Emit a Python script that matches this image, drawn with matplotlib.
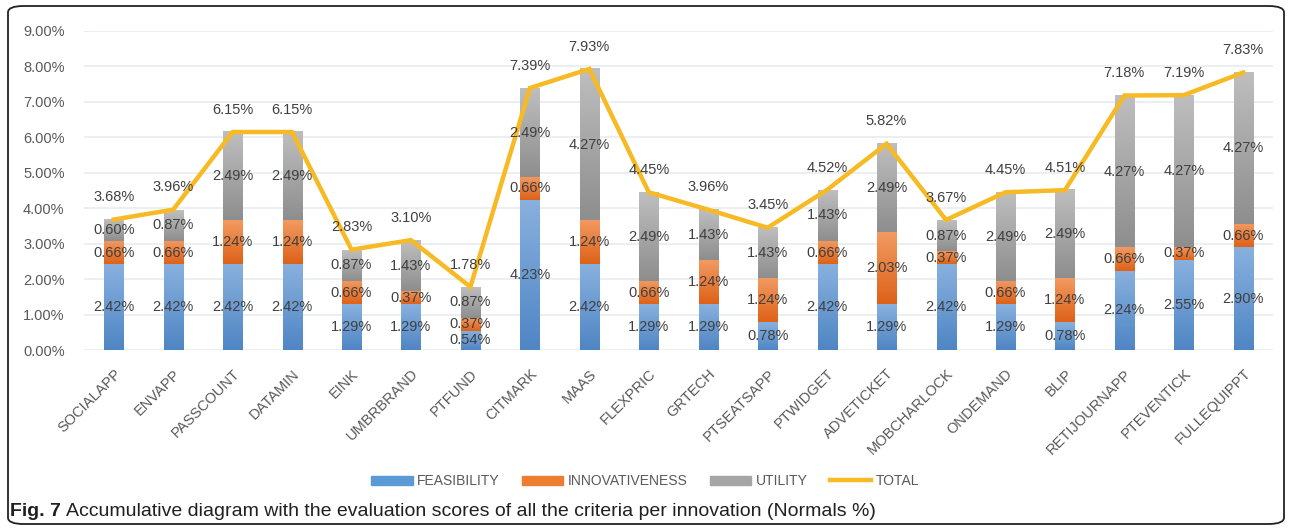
import numpy as np
import matplotlib
matplotlib.use("Agg")
import matplotlib.pyplot as plt
from matplotlib.colors import LinearSegmentedColormap
from matplotlib.patches import FancyBboxPatch, Patch
from matplotlib.lines import Line2D
from matplotlib.ticker import PercentFormatter

plt.rcParams['font.family'] = ['Liberation Sans', 'DejaVu Sans']

innovations = ["SOCIALAPP", "ENVAPP", "PASSCOUNT", "DATAMIN", "EINK", "UMBRBRAND",
               "PTFUND", "CITMARK", "MAAS", "FLEXPRIC", "GRTECH", "PTSEATSAPP",
               "PTWIDGET", "ADVETICKET", "MOBCHARLOCK", "ONDEMAND", "BLIP",
               "RETIJOURNAPP", "PTEVENTICK", "FULLEQUIPPT"]
feasibility = [2.42, 2.42, 2.42, 2.42, 1.29, 1.29, 0.54, 4.23, 2.42, 1.29,
               1.29, 0.78, 2.42, 1.29, 2.42, 1.29, 0.78, 2.24, 2.55, 2.90]
innovativeness = [0.66, 0.66, 1.24, 1.24, 0.66, 0.37, 0.37, 0.66, 1.24, 0.66,
                  1.24, 1.24, 0.66, 2.03, 0.37, 0.66, 1.24, 0.66, 0.37, 0.66]
utility = [0.60, 0.87, 2.49, 2.49, 0.87, 1.43, 0.87, 2.49, 4.27, 2.49,
           1.43, 1.43, 1.43, 2.49, 0.87, 2.49, 2.49, 4.27, 4.27, 4.27]
total = [3.68, 3.96, 6.15, 6.15, 2.83, 3.10, 1.78, 7.39, 7.93, 4.45,
         3.96, 3.45, 4.52, 5.82, 3.67, 4.45, 4.51, 7.18, 7.19, 7.83]

W, H = 1290, 532
fig = plt.figure(figsize=(W / 100, H / 100), dpi=100)
ax = fig.add_axes([84 / W, 1 - 350 / H, (1273 - 84) / W, (350 - 31) / H])

x = np.arange(len(innovations))
f = np.array(feasibility) / 100
i_ = np.array(innovativeness) / 100
u = np.array(utility) / 100
t = np.array(total) / 100

# (light top, dark bottom) for each series
series = [
    ("FEASIBILITY", f, np.zeros_like(f), "#5B9BD5", ("#88B0DE", "#4F86C4")),
    ("INNOVATIVENESS", i_, f, "#ED7D31", ("#F29A62", "#DD6218")),
    ("UTILITY", u, f + i_, "#A5A5A5", ("#BEBEBE", "#8E8E8E")),
]
bw = 0.32
lab_col = "#404040"
for name, vals, bottom, col, (top_c, bot_c) in series:
    bars = ax.bar(x, vals, bw, bottom=bottom, color=col, zorder=2, label=name)
    cmap = LinearSegmentedColormap.from_list(name, [bot_c, top_c])
    grad = np.linspace(0, 1, 64).reshape(-1, 1)
    for b in bars:
        x0, y0 = b.get_x(), b.get_y()
        ax.imshow(grad, extent=[x0, x0 + b.get_width(), y0, y0 + b.get_height()],
                  origin="lower", aspect="auto", cmap=cmap, zorder=2.1,
                  interpolation="bicubic")
    for xi, v, b0 in zip(x, vals, bottom):
        ax.text(xi, b0 + v / 2, f"{v * 100:.2f}%", ha="center", va="center",
                fontsize=10.5, color=lab_col, zorder=5)

ax.plot(x, t, color="#F7BA24", lw=3.2, zorder=4, solid_joinstyle="miter", label="TOTAL")
for xi, v in zip(x, t):
    ax.annotate(f"{v * 100:.2f}%", (xi, v), xytext=(0, 16), textcoords="offset points",
                ha="center", va="center", fontsize=10.5, color=lab_col, zorder=5)

ax.set_xlim(-0.5, len(innovations) - 0.5)
ax.set_ylim(0, 0.09)
ax.set_yticks(np.arange(0, 0.0901, 0.01))
ax.yaxis.set_major_formatter(PercentFormatter(1.0, decimals=2))
ax.set_xticks(x)
ax.set_xticklabels(innovations, rotation=45, ha="right", rotation_mode="anchor")
ax.tick_params(axis="both", length=0, labelsize=10.5, labelcolor="#595959")
ax.tick_params(axis="x", pad=12)
ax.tick_params(axis="y", pad=14)
ax.grid(axis="y", color="#E8ECF1", lw=1.2, zorder=0)
ax.set_axisbelow(True)
for s in ax.spines.values():
    s.set_visible(False)

handles = [Patch(color="#5B9BD5"), Patch(color="#ED7D31"), Patch(color="#A5A5A5"),
           Line2D([0], [0], color="#F7BA24", lw=3.2)]
fig.legend(handles, ["FEASIBILITY", "INNOVATIVENESS", "UTILITY", "TOTAL"],
           loc="center", bbox_to_anchor=(0.5, 1 - 481 / H), ncol=4, frameon=False,
           fontsize=10, handlelength=3.0, handleheight=0.6, columnspacing=1.6,
           handletextpad=0.3, labelcolor="#595959")

border = FancyBboxPatch((8 / W, 8 / H), 1276 / W, 518 / H,
                        boxstyle="round,pad=0,rounding_size=0.012",
                        transform=fig.transFigure, fill=False, ec="#222222", lw=1.3)
fig.patches.append(border)

t1 = fig.text(10 / W, 1 - 511 / H, "Fig. 7", fontsize=14, fontweight="bold",
              va="center", color="#231F20")
r = fig.canvas.get_renderer()
bb = t1.get_window_extent(r)
fig.text((bb.x1 + 5) / W, 1 - 511 / H,
         "Accumulative diagram with the evaluation scores of all the criteria per innovation (Normals %)",
         fontsize=14, va="center", color="#231F20")

fig.savefig("out.png", dpi=100)
